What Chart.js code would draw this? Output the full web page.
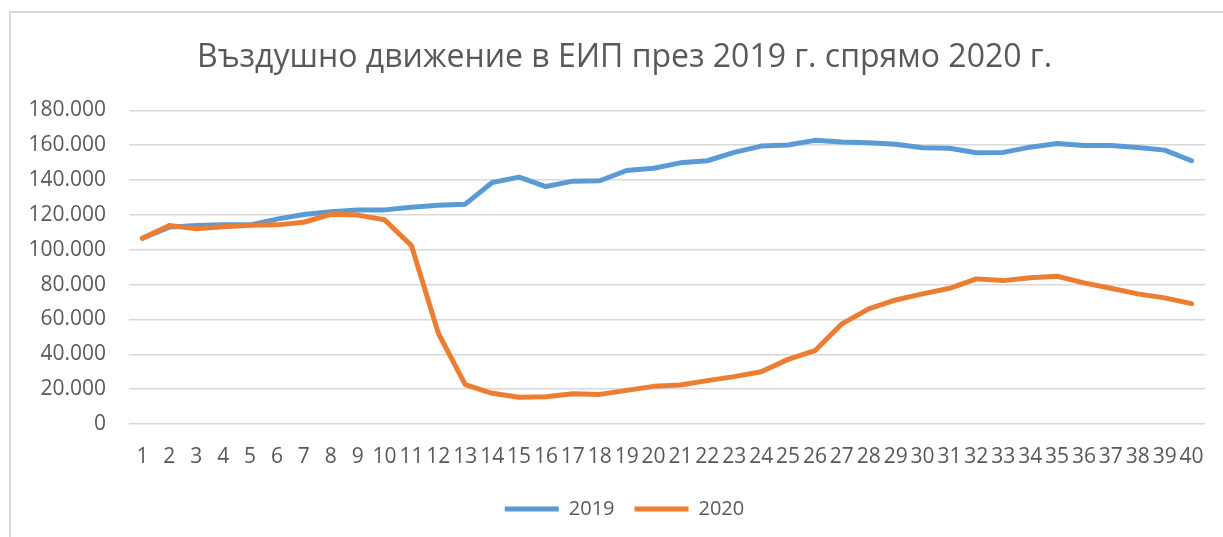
<!DOCTYPE html>
<html>
<head>
<meta charset="utf-8">
<script src="https://cdn.jsdelivr.net/npm/chart.js@4/dist/chart.umd.min.js"></script>
<style>
  body { margin: 0; background: #ffffff; }
  #frame {
    position: absolute; left: 9px; top: 11px; width: 1300px; height: 600px;
    border-top: 2px solid #d9d9d9; border-left: 2px solid #d9d9d9;
  }
  #wrap { position: absolute; left: 0; top: 0; width: 1223px; height: 537px; }
</style>
</head>
<body>
<div id="frame"></div>
<div id="wrap"><canvas id="chart"></canvas></div>
<script>
// Въздушно движение в ЕИП, седмици 1-40
const weeks = [
  "1", "2", "3", "4", "5", "6", "7", "8", "9", "10",
  "11", "12", "13", "14", "15", "16", "17", "18", "19", "20",
  "21", "22", "23", "24", "25", "26", "27", "28", "29", "30",
  "31", "32", "33", "34", "35", "36", "37", "38", "39", "40",
];

const flights2019 = [
  106600, 113000, 113900, 114300, 114300, 117600, 120200, 121800, 122900, 122900,
  124400, 125600, 126200, 138600, 141700, 136300, 139400, 139600, 145500, 146800,
  149900, 151100, 155900, 159500, 160100, 162800, 161900, 161400, 160600, 158600,
  158300, 155700, 155900, 158900, 161000, 159900, 159900, 158700, 157200, 151100,
];

const flights2020 = [
  106600, 113900, 112000, 113200, 114100, 114300, 115800, 120400, 119900, 117200,
  102400, 52100, 22600, 17600, 15300, 15700, 17400, 17000, 19300, 21600,
  22400, 24900, 27200, 30000, 37100, 42100, 57500, 66100, 71200, 74700,
  77900, 83300, 82300, 83900, 84800, 81000, 77900, 74700, 72400, 69100,
];

const yTicks = [0, 20000, 40000, 60000, 80000, 100000, 120000, 140000, 160000, 180000];

const textColor = "#595959";
const gridColor = "#d9d9d9";
const fontFamily = "'Open Sans', sans-serif";

function formatThousands(v) {
  return String(v).replace(/\B(?=(\d{3})+(?!\d))/g, ".");
}

// Excel центрира заглавието и легендата спрямо цялата рамка, не спрямо канваса
const centerShift = {
  id: "centerShift",
  afterLayout(chart) {
    const dx = 22;
    [chart.titleBlock, chart.legend].forEach((box) => {
      if (!box) return;
      box.left += dx;
      box.right += dx;
    });
  },
};

const ctx = document.getElementById("chart").getContext("2d");

new Chart(ctx, {
  type: "line",
  plugins: [centerShift],
  data: {
    labels: weeks,
    datasets: [
      {
        label: "2019",
        data: flights2019,
        borderColor: "#5b9bd5",
        backgroundColor: "#5b9bd5",
        borderWidth: 5,
        borderCapStyle: "round",
        borderJoinStyle: "round",
        pointRadius: 0,
        tension: 0,
        order: 1,
      },
      {
        label: "2020",
        data: flights2020,
        borderColor: "#ed7d31",
        backgroundColor: "#ed7d31",
        borderWidth: 5,
        borderCapStyle: "round",
        borderJoinStyle: "round",
        pointRadius: 0,
        tension: 0,
        order: 0,
      },
    ],
  },
  options: {
    responsive: true,
    maintainAspectRatio: false,
    animation: false,
    layout: { padding: { left: 0, right: 18, top: 39, bottom: 8 } },
    plugins: {
      title: {
        display: true,
        text: "Въздушно движение в ЕИП през 2019 г. спрямо 2020 г.",
        color: textColor,
        font: { family: fontFamily, size: 32, weight: "normal" },
        padding: { top: 0, bottom: 33 },
      },
      legend: {
        position: "bottom",
        labels: {
          color: textColor,
          font: { family: fontFamily, size: 20 },
          usePointStyle: true,
          pointStyle: "line",
          pointStyleWidth: 54,
          boxWidth: 54,
          padding: 20,
          sort: (a, b) => a.datasetIndex - b.datasetIndex,
        },
      },
      tooltip: { enabled: false },
    },
    scales: {
      x: {
        offset: true,
        grid: { display: false },
        border: { display: false },
        ticks: {
          color: textColor,
          font: { family: fontFamily, size: 21 },
          autoSkip: false,
          maxRotation: 0,
          padding: 12,
        },
        afterFit: (scale) => { scale.height = 55; },
      },
      y: {
        min: 0,
        max: 180000,
        afterBuildTicks: (scale) => { scale.ticks = yTicks.map((v) => ({ value: v })); },
        grid: { color: gridColor, lineWidth: 1.5, drawTicks: false },
        border: { display: false },
        ticks: {
          color: textColor,
          font: { family: fontFamily, size: 21 },
          padding: 23,
          callback: (value) => formatThousands(value),
        },
        afterFit: (scale) => { scale.width = 129; },
      },
    },
  },
});
</script>
</body>
</html>
